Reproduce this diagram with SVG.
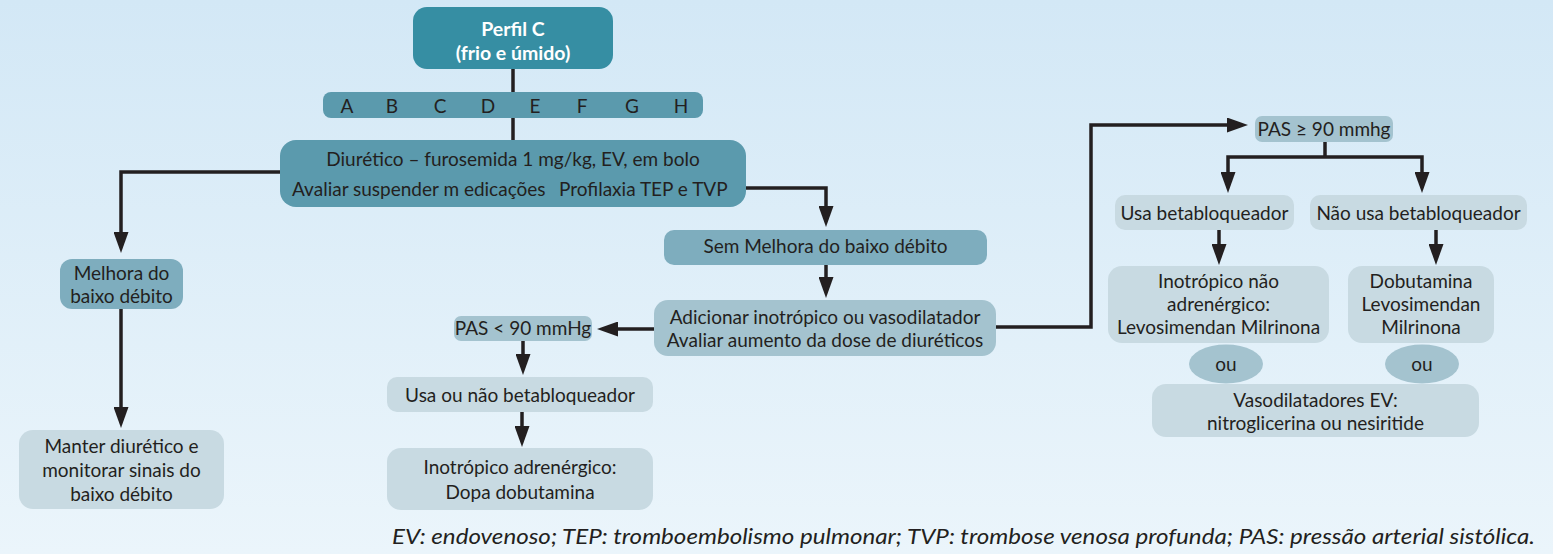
<svg xmlns="http://www.w3.org/2000/svg" width="1553" height="554" viewBox="0 0 1553 554">
<defs>
<linearGradient id="bg" x1="0" y1="0" x2="0" y2="1"><stop offset="0" stop-color="#d3e8f6"/><stop offset="1" stop-color="#ebf5fb"/></linearGradient>
<marker id="ah" markerUnits="userSpaceOnUse" markerWidth="21" markerHeight="15" refX="0" refY="7.5" orient="auto"><path d="M0,0 L21,7.5 L0,15 z" fill="#231f20"/></marker>
</defs>
<style>
.t{font-family:Lato,"Liberation Sans",sans-serif;font-size:19px;fill:#231f20;text-anchor:middle}
.s{text-anchor:start}
.w{fill:#ffffff;font-weight:bold;font-size:19.5px}
.c{fill:none;stroke:#231f20;stroke-width:3.5}
.c1{marker-end:url(#ah)}
.dark{fill:#368ea3}
.mid{fill:#5b9aad}
.m2{fill:#7eadbe}
.m3{fill:#a4c3cf}
.lt{fill:#c8dae2}
.fn{font-family:Lato,"Liberation Sans",sans-serif;font-size:21.5px;font-style:italic;fill:#231f20}
</style>
<rect x="0" y="0" width="1553" height="554" fill="url(#bg)"/>

<g id="connectors">
<path class="c" d="M513,69 V92"/>
<path class="c" d="M513,118 V140"/>
<path class="c c1" d="M280,172 H121 V232"/>
<path class="c c1" d="M121,309 V407"/>
<path class="c c1" d="M746,188 H826 V206"/>
<path class="c c1" d="M826,265 V277"/>
<path class="c c1" d="M654,329 H618"/>
<path class="c c1" d="M523,341 V354"/>
<path class="c c1" d="M522,412 V426"/>
<path class="c c1" d="M996,327 H1091 V125 H1227"/>
<path class="c" d="M1325,142 V157"/>
<path class="c c1" d="M1325,157 H1228 V172"/>
<path class="c c1" d="M1325,157 H1422 V172"/>
<path class="c c1" d="M1219,230 V244"/>
<path class="c c1" d="M1436,230 V244"/>
</g>

<g id="perfil">
<rect class="dark" x="413" y="7" width="200" height="62" rx="14"/>
<text class="t w" x="513" y="36">Perfil C</text>
<text class="t w" x="513" y="60">(frio e úmido)</text>
</g>
<g id="letras">
<rect class="mid" x="323" y="92" width="380" height="26" rx="8"/>
<text class="t" x="347" y="113">A</text>
<text class="t" x="392" y="113">B</text>
<text class="t" x="440" y="113">C</text>
<text class="t" x="488" y="113">D</text>
<text class="t" x="535" y="113">E</text>
<text class="t" x="582" y="113">F</text>
<text class="t" x="632" y="113">G</text>
<text class="t" x="681" y="113">H</text>
</g>
<g id="diuretico">
<rect class="mid" x="280" y="140" width="466" height="67" rx="16"/>
<text class="t" x="513" y="166">Diurético – furosemida 1 mg/kg, EV, em bolo</text>
<text class="t s" x="292" y="196">Avaliar suspender m edicações</text>
<text class="t s" x="559" y="196">Profilaxia TEP e TVP</text>
</g>
<g id="melhora">
<rect class="m2" x="60" y="259" width="123" height="50" rx="12"/>
<text class="t" x="121.5" y="280">Melhora do</text>
<text class="t" x="121.5" y="303">baixo débito</text>
</g>
<g id="manter">
<rect class="lt" x="19" y="430" width="205" height="79" rx="14"/>
<text class="t" x="121.5" y="453">Manter diurético e</text>
<text class="t" x="121.5" y="477">monitorar sinais do</text>
<text class="t" x="121.5" y="501">baixo débito</text>
</g>
<g id="semmelhora">
<rect class="m2" x="664" y="230" width="323" height="35" rx="10"/>
<text class="t" x="825.5" y="253">Sem Melhora do baixo débito</text>
</g>
<g id="adicionar">
<rect class="m3" x="654" y="300" width="342" height="56" rx="14"/>
<text class="t" x="825" y="324">Adicionar inotrópico ou vasodilatador</text>
<text class="t" x="825" y="347">Avaliar aumento da dose de diuréticos</text>
</g>
<g id="pasmenor">
<rect class="m3" x="454" y="316" width="138" height="25" rx="7"/>
<text class="t" x="523" y="335">PAS &lt; 90 mmHg</text>
</g>
<g id="usaounao">
<rect class="lt" x="387" y="377" width="266" height="35" rx="10"/>
<text class="t" x="520" y="402">Usa ou não betabloqueador</text>
</g>
<g id="inotradr">
<rect class="lt" x="387" y="448" width="266" height="62" rx="14"/>
<text class="t" x="520" y="474">Inotrópico adrenérgico:</text>
<text class="t" x="520" y="499">Dopa dobutamina</text>
</g>
<g id="pasmaior">
<rect class="m3" x="1255" y="116" width="138" height="26" rx="7"/>
<text class="t" x="1324" y="136">PAS ≥ 90 mmhg</text>
</g>
<g id="usabeta">
<rect class="lt" x="1115" y="195" width="179" height="35" rx="10"/>
<text class="t" x="1204.5" y="220">Usa betabloqueador</text>
</g>
<g id="naousa">
<rect class="lt" x="1310" y="195" width="217" height="35" rx="10"/>
<text class="t" x="1418.5" y="220">Não usa betabloqueador</text>
</g>
<g id="inotrnao">
<rect class="lt" x="1108" y="266" width="221" height="77" rx="14"/>
<text class="t" x="1218.5" y="288">Inotrópico não</text>
<text class="t" x="1218.5" y="311">adrenérgico:</text>
<text class="t" x="1218.5" y="334">Levosimendan Milrinona</text>
</g>
<g id="dobutamina">
<rect class="lt" x="1348" y="266" width="146" height="77" rx="14"/>
<text class="t" x="1421" y="288">Dobutamina</text>
<text class="t" x="1421" y="311">Levosimendan</text>
<text class="t" x="1421" y="334">Milrinona</text>
</g>
<g id="ou1">
<ellipse class="m3" cx="1226" cy="364" rx="37" ry="19.5"/>
<text class="t" x="1226" y="371">ou</text>
</g>
<g id="ou2">
<ellipse class="m3" cx="1422" cy="364" rx="37" ry="19.5"/>
<text class="t" x="1422" y="371">ou</text>
</g>
<g id="vasodil">
<rect class="lt" x="1152" y="384" width="327" height="53" rx="14"/>
<text class="t" x="1315.5" y="407">Vasodilatadores EV:</text>
<text class="t" x="1315.5" y="430">nitroglicerina ou nesiritide</text>
</g>
<text class="fn" x="392" y="544" textLength="1143" lengthAdjust="spacingAndGlyphs">EV: endovenoso; TEP: tromboembolismo pulmonar; TVP: trombose venosa profunda; PAS: pressão arterial sistólica.</text>
</svg>
